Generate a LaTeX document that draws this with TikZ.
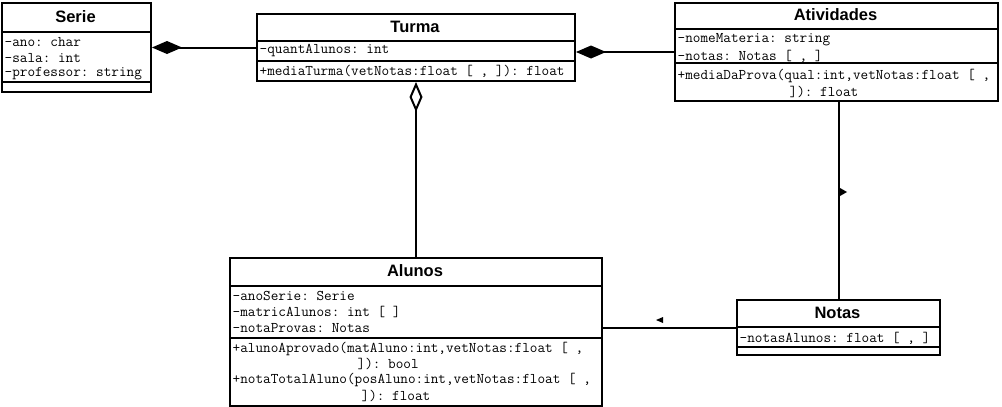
\documentclass[tikz,border=0pt]{standalone}
\usepackage{fontspec}
\setmainfont{Liberation Sans}
\usetikzlibrary{arrows.meta}
\tikzset{
 comptip/.tip={Diamond[length=30pt,width=13pt]},
 aggrtip/.tip={Diamond[open,length=30pt,width=13pt]}
}
\frenchspacing
\begin{document}
\begin{tikzpicture}[x=1pt,y=-1pt,
 umlbox/.style={draw,line width=2pt,anchor=north west,inner sep=0pt},
 ttl/.style={font=\fontsize{16.5}{18}\selectfont\bfseries,inner sep=0pt},
 attr/.style={font=\ttfamily\fontsize{14.8}{16}\selectfont,anchor=west,inner sep=0pt,xshift=1.5pt},
 divider/.style={line width=2pt},
 conn/.style={line width=2pt},
 navtip/.style={fill=black}]
\useasboundingbox (0,0) rectangle (1002,407);
\fill[white] (0,0) rectangle (1002,407);

% Serie
\node[umlbox,minimum width=149pt,minimum height=89pt] (serie) at (1,2) {};
\draw[divider] (1,32) -- (150,32);
\draw[divider] (1,82) -- (150,82);
\node[ttl] (serieT) at (75.5,17) {Serie};
\node[attr] (serieA1) at (3,42) {-ano: char};
\node[attr] (serieA2) at (3,58) {-sala: int};
\node[attr] (serieA3) at (3,74) {-professor: string};

% Turma
\node[umlbox,minimum width=318pt,minimum height=67pt] (turma) at (256,13) {};
\draw[divider] (256,41) -- (574,41);
\draw[divider] (256,61) -- (574,61);
\node[ttl] (turmaT) at (415,27) {Turma};
\node[attr] (turmaA1) at (258,51) {-quantAlunos: int};
\node[attr] (turmaO1) at (258,71) {+mediaTurma(vetNotas:float [ , ]): float};

% Atividades
\node[umlbox,minimum width=323pt,minimum height=98pt] (ativ) at (674,2) {};
\draw[divider] (674,29) -- (997,29);
\draw[divider] (674,63) -- (997,63);
\node[ttl] (ativT) at (835.5,15) {Atividades};
\node[attr] (ativA1) at (676,40) {-nomeMateria: string};
\node[attr] (ativA2) at (676,56) {-notas: Notas [ , ]};
\node[attr] (ativO1) at (676,76) {+mediaDaProva(qual:int,vetNotas:float [ ,};
\node[attr] (ativO1b) at (788,92) {]): float};

% Alunos
\node[umlbox,minimum width=372pt,minimum height=148pt] (alunos) at (229,257) {};
\draw[divider] (229,286) -- (601,286);
\draw[divider] (229,338) -- (601,338);
\node[ttl] (alunosT) at (415,271) {Alunos};
\node[attr] (alunosA1) at (231,296) {-anoSerie: Serie};
\node[attr] (alunosA2) at (231,312) {-matricAlunos: int [ ]};
\node[attr] (alunosA3) at (231,328) {-notaProvas: Notas};
\node[attr] (alunosO1) at (231,349) {+alunoAprovado(matAluno:int,vetNotas:float [ ,};
\node[attr] (alunosO1b) at (356,364) {]): bool};
\node[attr] (alunosO2) at (231,380) {+notaTotalAluno(posAluno:int,vetNotas:float [ ,};
\node[attr] (alunosO2b) at (360,396) {]): float};

% Notas
\node[umlbox,minimum width=203pt,minimum height=55pt] (notas) at (736,299) {};
\draw[divider] (736,327) -- (939,327);
\draw[divider] (736,347) -- (939,347);
\node[ttl] (notasT) at (837.5,313) {Notas};
\node[attr] (notasA1) at (738,338) {-notasAlunos: float [ , ]};

% Connectors
\draw[conn,comptip-] (serie.east) -- (turma.west);
\draw[conn,comptip-] (turma.east |- ativ.west) -- (ativ.west);
\draw[conn,aggrtip-] (turma.south) -- (alunos.north);
\draw[conn] (notas.north |- ativ.south) -- (notas.north);
\draw[conn] (notas.west) -- (notas.west -| alunos.east);

% navigability markers
\fill[navtip] (840,188) -- (840,196) -- (847,192) -- cycle;
\fill[navtip] (663,317) -- (663,323) -- (656,320) -- cycle;
\end{tikzpicture}
\end{document}
